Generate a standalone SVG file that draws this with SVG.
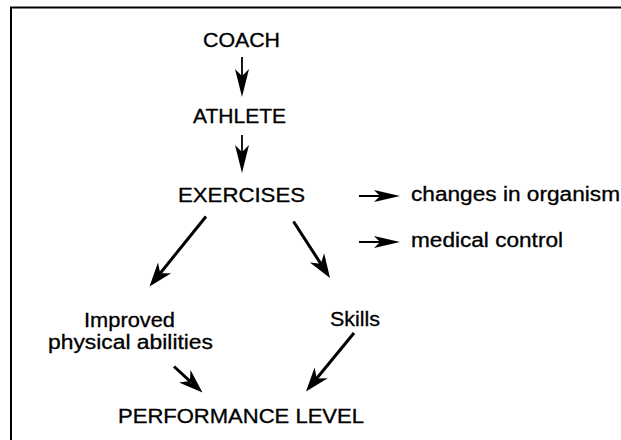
<svg xmlns="http://www.w3.org/2000/svg" width="621" height="440" viewBox="0 0 621 440">
  <style>
    text { font-family: "Liberation Sans", Arial, sans-serif; font-size: 19.5px; fill: #000; stroke: #000; stroke-width: 0.3; }
    .frame { fill: none; stroke: #000; stroke-width: 2; }
    .conn line { stroke: #000; stroke-linecap: butt; }
    .v { stroke-width: 1.8; marker-end: url(#headV); }
    .h { stroke-width: 2; marker-end: url(#headH); }
    .d { stroke-width: 3; marker-end: url(#headD); }
  </style>
  <defs>
    <!-- dart-shaped heads; tip sits 10 units beyond the line end -->
    <marker id="headV" markerUnits="userSpaceOnUse" orient="auto" refX="0" refY="0" markerWidth="1" markerHeight="1" overflow="visible">
      <path d="M10,0 L-18,-7 L-11,0 L-18,7 Z" fill="#000"/>
    </marker>
    <marker id="headH" markerUnits="userSpaceOnUse" orient="auto" refX="0" refY="0" markerWidth="1" markerHeight="1" overflow="visible">
      <path d="M10,0 L-16,-6 L-10,0 L-16,6 Z" fill="#000"/>
    </marker>
    <marker id="headD" markerUnits="userSpaceOnUse" orient="auto" refX="0" refY="0" markerWidth="1" markerHeight="1" overflow="visible">
      <path d="M10,0 L-14,-8.5 L-7,0 L-14,8.5 Z" fill="#000"/>
    </marker>
  </defs>

  <rect width="621" height="440" fill="#fff"/>
  <path class="frame" d="M11,440 V7.5 H621"/>

  <g id="coach"><text x="203" y="47" textLength="77" lengthAdjust="spacingAndGlyphs">COACH</text></g>
  <g id="athlete"><text x="193" y="123" textLength="93" lengthAdjust="spacingAndGlyphs">ATHLETE</text></g>
  <g id="exercises"><text x="178" y="201.5" textLength="127" lengthAdjust="spacingAndGlyphs">EXERCISES</text></g>
  <g id="changes"><text x="411" y="201" textLength="209" lengthAdjust="spacingAndGlyphs">changes in organism</text></g>
  <g id="medical"><text x="411" y="247" textLength="152" lengthAdjust="spacingAndGlyphs">medical control</text></g>
  <g id="abilities">
    <text x="84" y="326.5" textLength="91" lengthAdjust="spacingAndGlyphs">Improved</text>
    <text x="48" y="348.5" textLength="165" lengthAdjust="spacingAndGlyphs">physical abilities</text>
  </g>
  <g id="skills"><text x="330" y="326" textLength="50" lengthAdjust="spacingAndGlyphs">Skills</text></g>
  <g id="performance"><text x="118" y="423" textLength="246" lengthAdjust="spacingAndGlyphs">PERFORMANCE LEVEL</text></g>

  <g id="connectors" class="conn">
    <line class="v" x1="242" y1="57" x2="242" y2="87"/>
    <line class="v" x1="242" y1="135" x2="242" y2="163"/>
    <line class="h" x1="359" y1="196" x2="390" y2="196"/>
    <line class="h" x1="359" y1="242" x2="390" y2="242"/>
    <line class="d" x1="206" y1="216.5" x2="155.8" y2="278.7"/>
    <line class="d" x1="293.5" y1="221.5" x2="324.6" y2="269.6"/>
    <line class="d" x1="174" y1="366.5" x2="195.1" y2="385.8"/>
    <line class="d" x1="354" y1="333" x2="312.3" y2="383.8"/>
  </g>
</svg>
